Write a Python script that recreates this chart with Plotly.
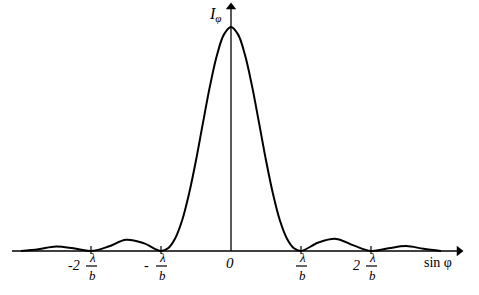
import plotly.graph_objects as go

# Data (x in units of lambda/b, relative intensity)
x_vals = [-3.0, -2.75, -2.5, -2.25, -2.0, -1.75, -1.5, -1.25, -1.0,
          -0.9, -0.8, -0.7, -0.6, -0.5, -0.4, -0.3, -0.2, -0.1, 0.0,
          0.1, 0.2, 0.3, 0.4, 0.5, 0.6, 0.7, 0.8, 0.9, 1.0,
          1.25, 1.5, 1.75, 2.0, 2.25, 2.5, 2.75, 3.0]
i_vals = [0.0, 0.008, 0.02, 0.012, 0.0, 0.02, 0.05, 0.035, 0.0,
          0.012, 0.055, 0.135, 0.255, 0.405, 0.573, 0.737, 0.875, 0.967, 1.0,
          0.967, 0.875, 0.737, 0.573, 0.405, 0.255, 0.135, 0.055, 0.012, 0.0,
          0.038, 0.054, 0.025, 0.0, 0.012, 0.022, 0.01, 0.0]

tick_pos = [-2, -1, 1, 2]
tick_coef = ["-2", "-", "", "2"]
frac_num = "λ"
frac_den = "b"
x_title = "sin φ"
y_title = "I"
y_sub = "φ"
zero_label = "0"

W, H = 479, 295
X0, UNIT = 231, 70
BASE, PEAK = 251, 27
SCALE = BASE - PEAK


def dx(px):
    return (px - X0) / UNIT


def dy(py):
    return (BASE - py) / SCALE


fig = go.Figure()
fig.add_trace(go.Scatter(x=x_vals, y=i_vals, mode="lines",
                         line=dict(color="black", width=2, shape="spline", smoothing=1.0),
                         hoverinfo="skip", showlegend=False))

serif = "Liberation Serif"
ann = []
shapes = []
# axes lines
shapes.append(dict(type="line", x0=dx(12), x1=dx(458), y0=0, y1=0, xref="x", yref="y",
                   line=dict(color="black", width=1.3)))
shapes.append(dict(type="line", x0=0, x1=0, y0=0, y1=dy(6), xref="x", yref="y",
                   line=dict(color="black", width=1.3)))
# arrow heads
fig.add_trace(go.Scatter(x=[dx(459)], y=[0], mode="markers",
                         marker=dict(symbol="triangle-right", size=9, color="black"),
                         hoverinfo="skip", showlegend=False))
fig.add_trace(go.Scatter(x=[0], y=[dy(7)], mode="markers",
                         marker=dict(symbol="triangle-up", size=9, color="black"),
                         hoverinfo="skip", showlegend=False))

for p, c in zip(tick_pos, tick_coef):
    shapes.append(dict(type="line", x0=p, x1=p, y0=dy(246), y1=dy(254), xref="x", yref="y",
                       line=dict(color="black", width=1.2)))
    ann.append(dict(x=p + dx(X0 + 1), y=dy(257), text="<i>" + frac_num + "</i>", showarrow=False,
                    font=dict(family=serif, size=13, color="black"), xref="x", yref="y"))
    ann.append(dict(x=p + dx(X0 + 1), y=dy(275), text="<i>" + frac_den + "</i>", showarrow=False,
                    font=dict(family=serif, size=13, color="black"), xref="x", yref="y"))
    shapes.append(dict(type="line", x0=p + dx(X0 - 5), x1=p + dx(X0 + 6), y0=dy(266), y1=dy(266),
                       xref="x", yref="y", line=dict(color="black", width=1.2)))
    if c:
        off = -17 if c == "-2" else -15
        ann.append(dict(x=p + dx(X0 + off), y=dy(265), text="<i>" + c + "</i>", showarrow=False,
                        font=dict(family=serif, size=14, color="black"), xref="x", yref="y"))

ann.append(dict(x=dx(230), y=dy(263), text="<i>" + zero_label + "</i>", showarrow=False,
                font=dict(family=serif, size=15, color="black"), xref="x", yref="y"))
ann.append(dict(x=dx(438), y=dy(262), text=x_title, showarrow=False,
                font=dict(family=serif, size=14, color="black"), xref="x", yref="y"))
ann.append(dict(x=dx(215), y=dy(14), text="<i>" + y_title + "</i><sub><i>" + y_sub + "</i></sub>",
                showarrow=False, font=dict(family=serif, size=16, color="black"), xref="x", yref="y"))

fig.update_layout(
    width=W, height=H, margin=dict(l=0, r=0, t=0, b=0),
    paper_bgcolor="white", plot_bgcolor="white",
    xaxis=dict(range=[dx(0), dx(W)], visible=False, fixedrange=True),
    yaxis=dict(range=[dy(H), dy(0)], visible=False, fixedrange=True),
    annotations=ann, shapes=shapes, showlegend=False,
)
fig.write_html("out.html")
